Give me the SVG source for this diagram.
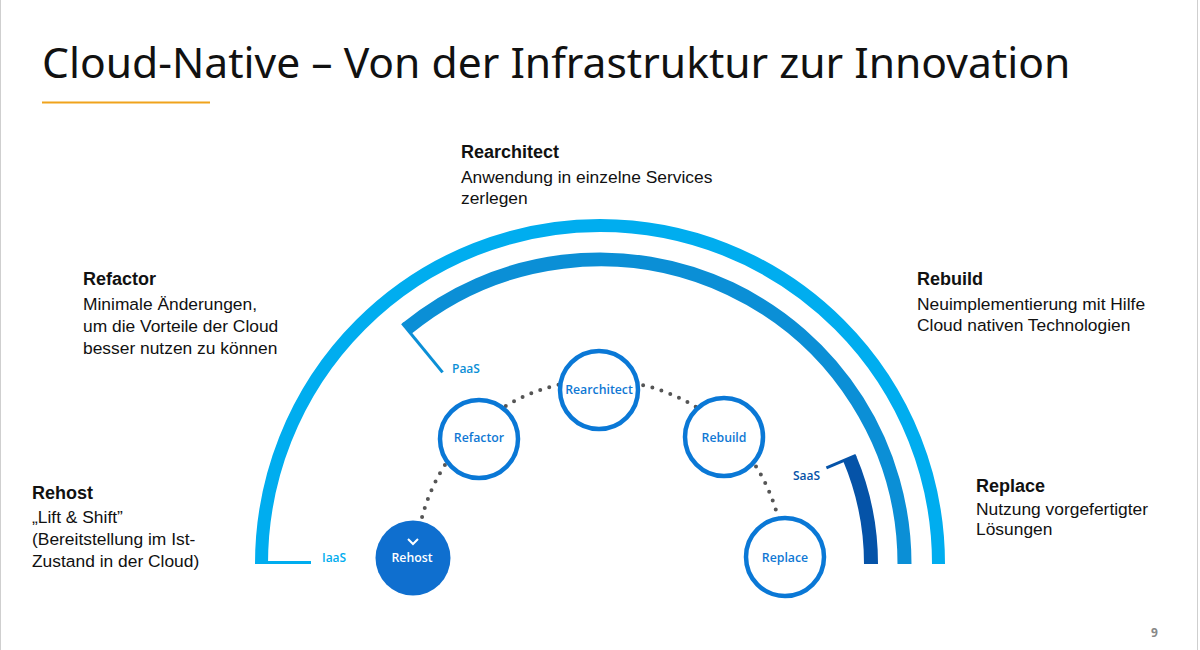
<svg xmlns="http://www.w3.org/2000/svg" width="1200" height="650" viewBox="0 0 1200 650">
<style>
.title{font-family:"Noto Sans","Open Sans",sans-serif;font-size:42.6px;fill:#111}
.h{font-family:"Liberation Sans",Arial,sans-serif;font-size:18px;font-weight:bold;fill:#111}
.b{font-family:"Liberation Sans",Arial,sans-serif;font-size:17.4px;fill:#111}
.ct{font-family:"Open Sans","Noto Sans",sans-serif;font-size:12.3px;font-weight:600;fill:#0f78d4;text-anchor:middle}
.ring{fill:#fff;stroke:#0a78d6;stroke-width:4.5}
.lvl{font-family:"Open Sans","Noto Sans",sans-serif;font-size:12px;font-weight:600}
.band{fill:none;stroke-linecap:butt}
</style>
<rect x="0" y="0" width="1200" height="650" fill="#fff"/>
<rect x="0.5" y="-2" width="1197" height="654" fill="none" stroke="#cfcfcf" stroke-width="1"/>

<g id="title">
<text class="title" x="42" y="78">Cloud-Native – Von der Infrastruktur zur Innovation</text>
<line x1="42" y1="102.5" x2="210" y2="102.5" stroke="#f0a31c" stroke-width="2"/>
</g>

<g id="bands">
<path class="band" d="M 261.5 564 A 338.5 338.5 0 0 1 938.5 564" stroke="#00adef" stroke-width="13"/>
<line x1="256" y1="562.5" x2="311" y2="562.5" stroke="#00adef" stroke-width="3"/>
<text class="lvl" x="322" y="562" fill="#00adef">IaaS</text>

<path class="band" d="M 406.7 328.7 A 304.5 304.5 0 0 1 904.5 564" stroke="#0b8fd6" stroke-width="14"/>
<line x1="402.3" y1="323.3" x2="442.6" y2="372.4" stroke="#0b8fd6" stroke-width="3"/>
<text class="lvl" x="452" y="373" fill="#0b8fd6">PaaS</text>

<path class="band" d="M 849.5 458.1 A 271 271 0 0 1 871 564" stroke="#0553a8" stroke-width="14"/>
<line x1="855.9" y1="455.4" x2="826.4" y2="467.9" stroke="#0553a8" stroke-width="3"/>
<text class="lvl" x="793" y="480" fill="#0553a8">SaaS</text>
</g>

<g id="connectors">
<path d="M 416 564 A 184 184 0 0 1 784 564" fill="none" stroke="#555" stroke-width="4" stroke-dasharray="0 9.5" stroke-linecap="round"/>
</g>

<g id="node-rehost">
<circle cx="413" cy="558" r="37.5" fill="#0f6fcf"/>
<polyline points="408,539 413,544 418,539" fill="none" stroke="#fff" stroke-width="2"/>
<text class="ct" x="412" y="562" style="fill:#fff">Rehost</text>
</g>
<g id="node-refactor">
<circle class="ring" cx="479" cy="439" r="39"/>
<text class="ct" x="479" y="442">Refactor</text>
</g>
<g id="node-rearchitect">
<circle class="ring" cx="599" cy="390" r="39"/>
<text class="ct" x="599" y="394">Rearchitect</text>
</g>
<g id="node-rebuild">
<circle class="ring" cx="724" cy="437" r="39"/>
<text class="ct" x="724" y="442">Rebuild</text>
</g>
<g id="node-replace">
<circle class="ring" cx="785" cy="557" r="39"/>
<text class="ct" x="785" y="562">Replace</text>
</g>

<g id="label-rearchitect">
<text class="h" x="461" y="158">Rearchitect</text>
<text class="b" x="461" y="183">Anwendung in einzelne Services</text>
<text class="b" x="461" y="204">zerlegen</text>
</g>
<g id="label-refactor">
<text class="h" x="83" y="285">Refactor</text>
<text class="b" x="83" y="310">Minimale Änderungen,</text>
<text class="b" x="83" y="332">um die Vorteile der Cloud</text>
<text class="b" x="83" y="354">besser nutzen zu können</text>
</g>
<g id="label-rebuild">
<text class="h" x="917" y="285">Rebuild</text>
<text class="b" x="917" y="310">Neuimplementierung mit Hilfe</text>
<text class="b" x="917" y="331">Cloud nativen Technologien</text>
</g>
<g id="label-rehost">
<text class="h" x="32" y="499">Rehost</text>
<text class="b" x="32" y="523">„Lift &amp; Shift”</text>
<text class="b" x="32" y="545">(Bereitstellung im Ist-</text>
<text class="b" x="32" y="567">Zustand in der Cloud)</text>
</g>
<g id="label-replace">
<text class="h" x="976" y="492">Replace</text>
<text class="b" x="976" y="515">Nutzung vorgefertigter</text>
<text class="b" x="976" y="535">Lösungen</text>
</g>

<text x="1151" y="637" font-family="'Open Sans','Noto Sans',sans-serif" font-size="12" font-weight="bold" fill="#888">9</text>
</svg>
